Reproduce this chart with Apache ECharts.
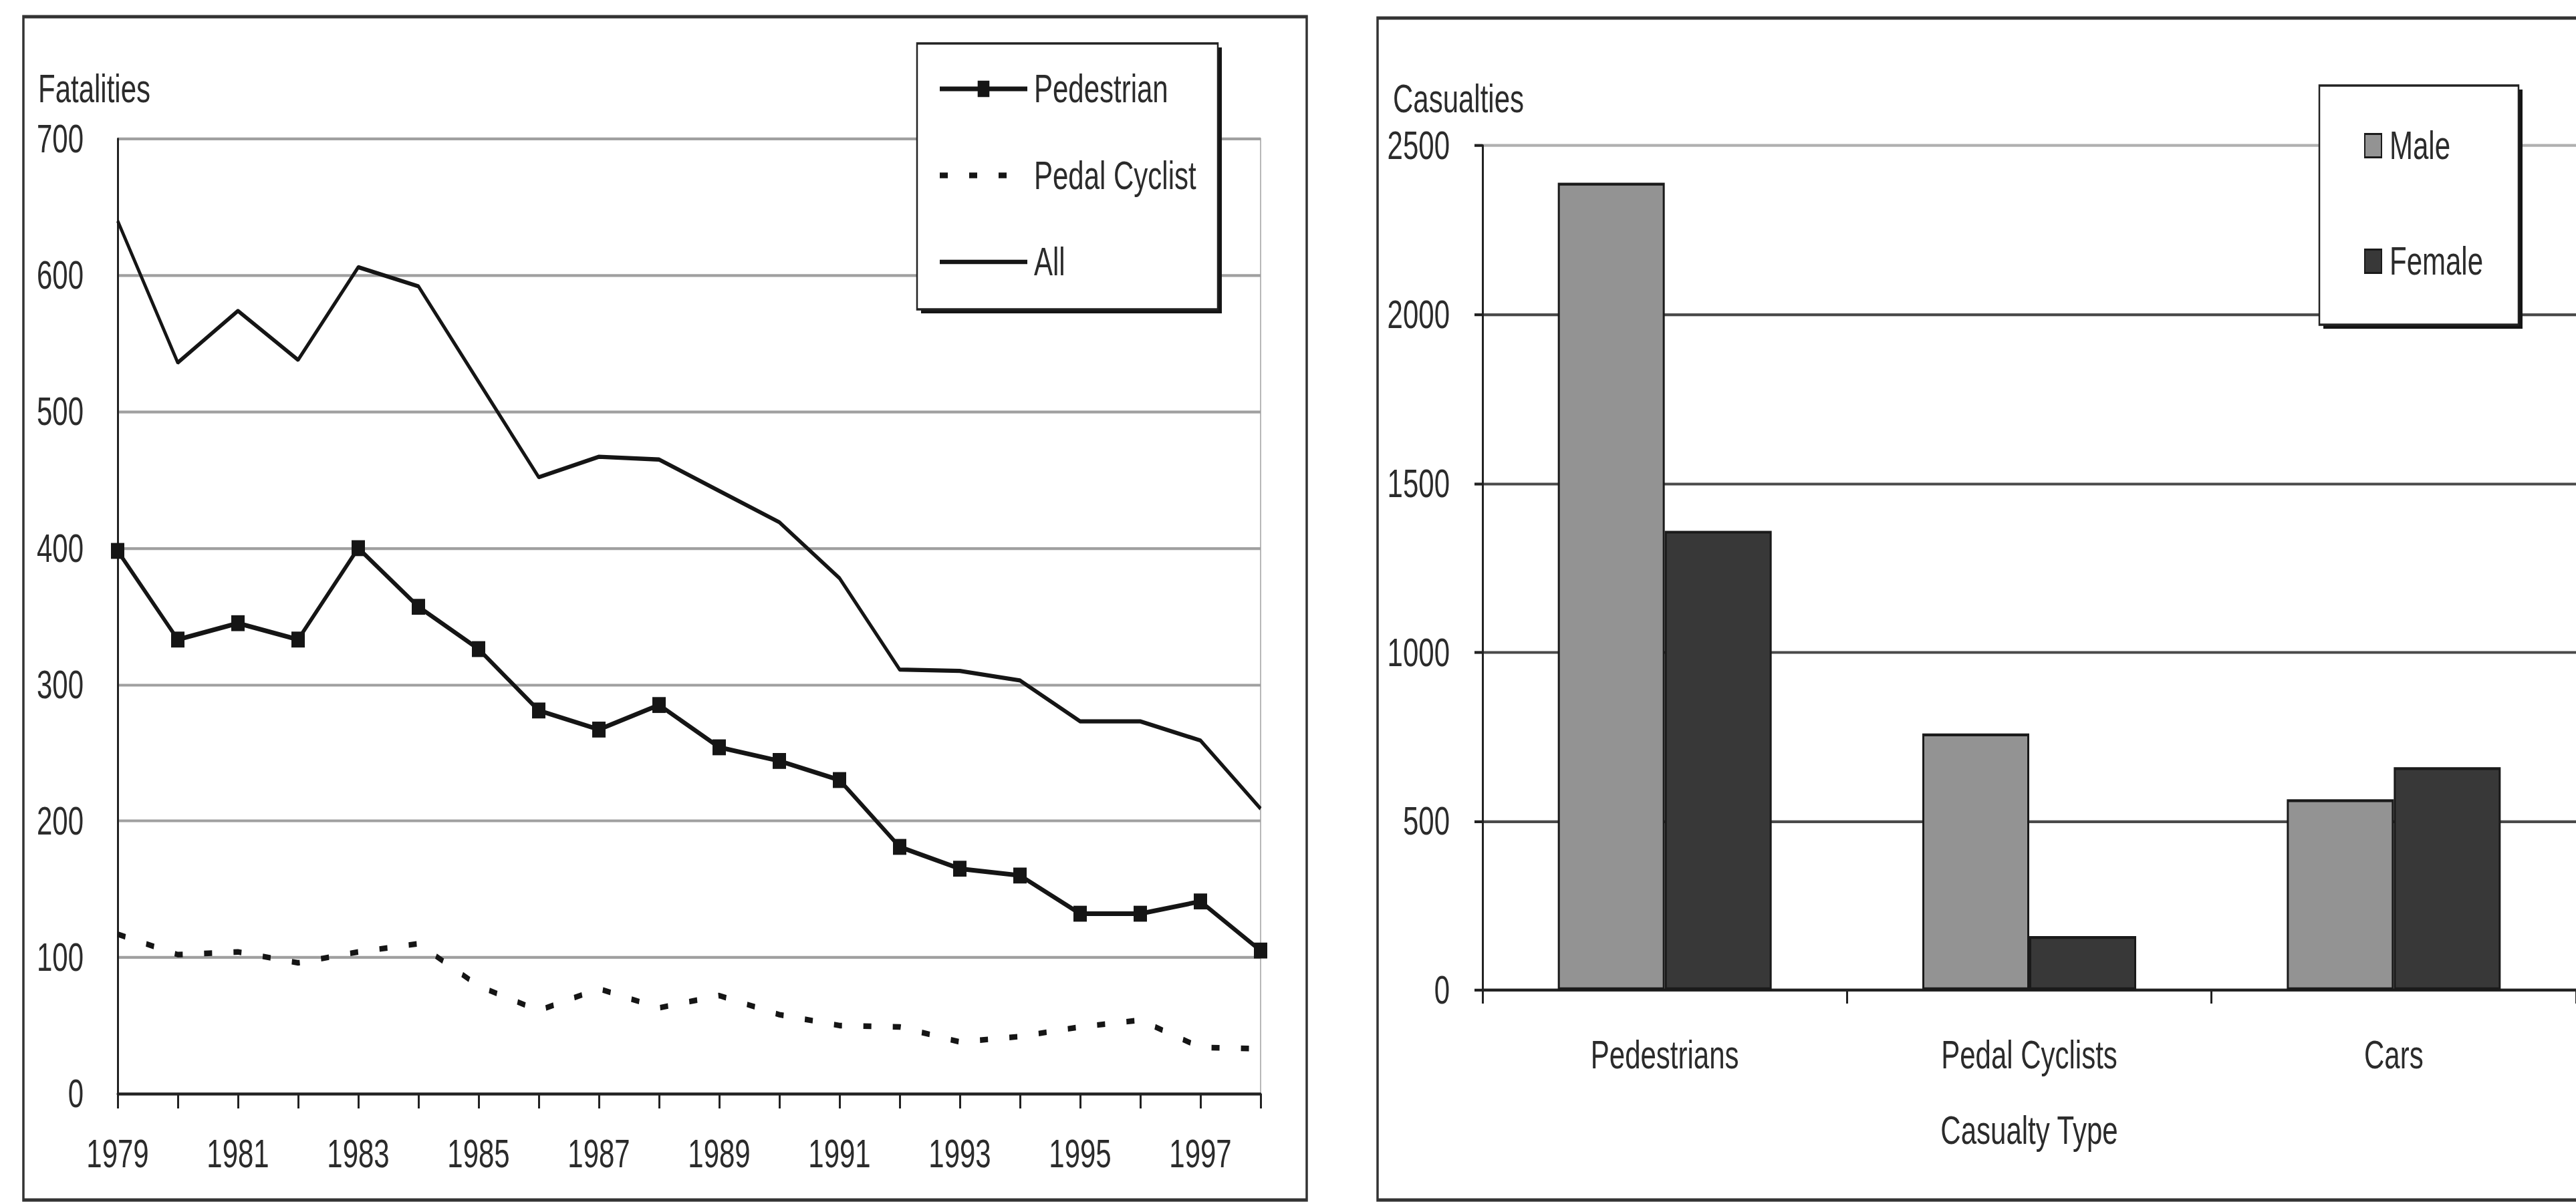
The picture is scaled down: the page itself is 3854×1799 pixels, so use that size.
<!DOCTYPE html>
<html lang="en">
<head>
  <meta charset="utf-8">
  <title>Road fatalities and casualties</title>
  <script src="https://cdn.jsdelivr.net/npm/echarts@6/dist/echarts.min.js"></script>
  <style>
    html, body { margin: 0; padding: 0; background: #fff; }
    body { width: 3854px; height: 1799px; }
    /* the scanned original is stretched vertically; draw at 1/S height and stretch the whole chart */
    #main { width: 3854px; height: 1285px; transform: scaleY(1.4); transform-origin: 0 0; }
  </style>
</head>
<body>
  <div id="main"></div>
  <script>
    // left panel - fatalities per year
    var years = ['1979', '1980', '1981', '1982', '1983', '1984', '1985', '1986', '1987', '1988',
      '1989', '1990', '1991', '1992', '1993', '1994', '1995', '1996', '1997', '1998'];
    var pedestrian = [398, 333, 345, 333, 400, 357, 326, 281, 267, 285, 254, 244, 230, 181, 165, 160, 132, 132, 141, 105];
    var pedalCyclist = [117, 102, 104, 96, 104, 110, 79, 61, 77, 63, 72, 58, 50, 49, 38, 42, 49, 54, 34, 33];
    var allFatalities = [640, 536, 574, 538, 606, 592, 522, 452, 467, 465, 442, 419, 378, 311, 310, 303, 273, 273, 259, 209];
    var fatalityTicks = [0, 100, 200, 300, 400, 500, 600, 700];

    // right panel - casualties by type and sex
    var casualtyTypes = ['Pedestrians', 'Pedal Cyclists', 'Cars'];
    var male = [2390, 760, 565];
    var female = [1360, 160, 660];
    var casualtyTicks = [0, 500, 1000, 1500, 2000, 2500];

    var S = 1.4;                       // same factor as the css scaleY
    function vy(y) { return y / S; }  // page y -> chart y

    var FONT = "'Liberation Sans', Arial, sans-serif";
    var FS = 42;
    var TEXT = '#2b2b2b';
    var INK = '#151515';
    var labelStyle = { fontSize: FS, color: TEXT, fontFamily: FONT };

    function plain(v) { return String(v); }

    // legend frame with a hard drop shadow
    function legendFrame(x1, y1, x2, y2) {
      return [{
        type: 'rect', silent: true, z: 3,
        shape: { x: x1 + 6, y: vy(y1 + 6), width: x2 - x1, height: vy(y2 - y1) },
        style: { fill: '#151515' }
      }, {
        type: 'rect', silent: true, z: 3,
        shape: { x: x1, y: vy(y1), width: x2 - x1, height: vy(y2 - y1) },
        style: { fill: '#fff', stroke: '#222', lineWidth: 2.5 }
      }];
    }

    var myChart = echarts.init(document.getElementById('main'), null, { renderer: 'svg' });

    var option = {
      animation: false,
      backgroundColor: '#fff',
      textStyle: { fontFamily: FONT, color: TEXT },
      graphic: [{
        type: 'rect', silent: true, z: -10,
        shape: { x: 35, y: vy(25), width: 1920, height: vy(1771) },
        style: { fill: 'none', stroke: '#333', lineWidth: 3.5 }
      }, {
        type: 'rect', silent: true, z: -10,
        shape: { x: 2061, y: vy(27), width: 1900, height: vy(1769) },
        style: { fill: 'none', stroke: '#333', lineWidth: 3.5 }
      }].concat(legendFrame(1372, 65, 1822, 463), legendFrame(3470, 128, 3768, 486)),
      legend: [{
        data: [
          { name: 'Pedestrian', lineStyle: { width: 5 } },
          { name: 'Pedal Cyclist', lineStyle: { width: 6 }, itemStyle: { opacity: 0 } },
          { name: 'All', lineStyle: { width: 4.5 }, itemStyle: { opacity: 0 } }
        ],
        orient: 'vertical',
        left: 1403, top: vy(133) - FS / 2,
        padding: 0,
        itemWidth: 131, itemHeight: 22, itemGap: vy(129.5) - FS,
        selectedMode: false,
        textStyle: { fontSize: FS, color: TEXT, fontFamily: FONT, padding: [0, 0, 0, 5] }
      }, {
        data: ['Male', 'Female'],
        orient: 'vertical',
        left: 3537, top: vy(218) - FS / 2,
        padding: 0,
        icon: 'rect',
        itemWidth: 25, itemHeight: 25, itemGap: vy(173) - FS,
        selectedMode: false,
        textStyle: { fontSize: FS, color: TEXT, fontFamily: FONT, padding: [0, 0, 0, 7] }
      }],
      grid: [{
        left: 176, top: vy(208), width: 1710, height: vy(1429),
        show: true, borderColor: '#b8b8b8', borderWidth: 2
      }, {
        left: 2218, top: vy(218), width: 1656, height: vy(1264)
      }],
      xAxis: [{
        gridIndex: 0,
        type: 'category',
        data: years,
        boundaryGap: false,
        axisLine: { lineStyle: { color: '#222', width: 3 } },
        axisTick: { show: true, interval: 0, length: vy(22), lineStyle: { color: '#222', width: 3 } },
        axisLabel: Object.assign({ interval: 1, margin: 43 }, labelStyle),
        splitLine: { show: false }
      }, {
        gridIndex: 1,
        type: 'category',
        data: casualtyTypes,
        boundaryGap: true,
        name: 'Casualty Type',
        nameLocation: 'middle',
        nameGap: 129,
        nameTextStyle: labelStyle,
        axisLine: { lineStyle: { color: '#222', width: 3 } },
        axisTick: { show: true, length: vy(20), lineStyle: { color: '#222', width: 3 } },
        axisLabel: Object.assign({ margin: 48 }, labelStyle),
        splitLine: { show: false }
      }],
      yAxis: [{
        gridIndex: 0,
        type: 'value',
        min: fatalityTicks[0],
        max: fatalityTicks[fatalityTicks.length - 1],
        interval: fatalityTicks[1] - fatalityTicks[0],
        name: 'Fatalities',
        nameLocation: 'end',
        nameGap: 33,
        nameTextStyle: Object.assign({ align: 'center', padding: [0, 70, 0, 0] }, labelStyle),
        axisLine: { show: true, lineStyle: { color: '#222', width: 3 } },
        axisTick: { show: false },
        axisLabel: Object.assign({ margin: 51, formatter: plain }, labelStyle),
        splitLine: { show: true, lineStyle: { color: '#a0a0a0', width: 3 } }
      }, {
        gridIndex: 1,
        type: 'value',
        min: casualtyTicks[0],
        max: casualtyTicks[casualtyTicks.length - 1],
        interval: casualtyTicks[1] - casualtyTicks[0],
        name: 'Casualties',
        nameLocation: 'end',
        nameGap: 29,
        nameTextStyle: Object.assign({ align: 'center', padding: [0, 72, 0, 0] }, labelStyle),
        axisLine: { show: true, lineStyle: { color: '#222', width: 3 } },
        axisTick: { show: true, length: 12, lineStyle: { color: '#222', width: 3 } },
        axisLabel: Object.assign({ margin: 49, formatter: plain }, labelStyle),
        splitLine: {
          show: true,
          lineStyle: { color: ['#4a4a4a', '#4a4a4a', '#4a4a4a', '#4a4a4a', '#4a4a4a', '#b0b0b0'], width: 3 }
        }
      }],
      series: [{
        name: 'Pedestrian',
        type: 'line',
        xAxisIndex: 0, yAxisIndex: 0,
        data: pedestrian,
        symbol: 'rect',
        symbolSize: [20, 17],
        lineStyle: { color: INK, width: 5 },
        itemStyle: { color: INK },
        z: 4
      }, {
        name: 'Pedal Cyclist',
        type: 'line',
        xAxisIndex: 0, yAxisIndex: 0,
        data: pedalCyclist,
        symbol: 'none',
        lineStyle: { color: INK, width: 6, type: [12, 32] },
        itemStyle: { color: INK },
        z: 3
      }, {
        name: 'All',
        type: 'line',
        xAxisIndex: 0, yAxisIndex: 0,
        data: allFatalities,
        symbol: 'none',
        lineStyle: { color: INK, width: 4.5 },
        itemStyle: { color: INK },
        z: 3
      }, {
        name: 'Male',
        type: 'bar',
        xAxisIndex: 1, yAxisIndex: 1,
        data: male,
        barWidth: 160,
        barGap: '0%',
        itemStyle: { color: '#939393', borderColor: '#1a1a1a', borderWidth: 3 }
      }, {
        name: 'Female',
        type: 'bar',
        xAxisIndex: 1, yAxisIndex: 1,
        data: female,
        barWidth: 160,
        barGap: '0%',
        itemStyle: { color: '#383838', borderColor: '#1a1a1a', borderWidth: 3 }
      }]
    };

    myChart.setOption(option);
  </script>
</body>
</html>
